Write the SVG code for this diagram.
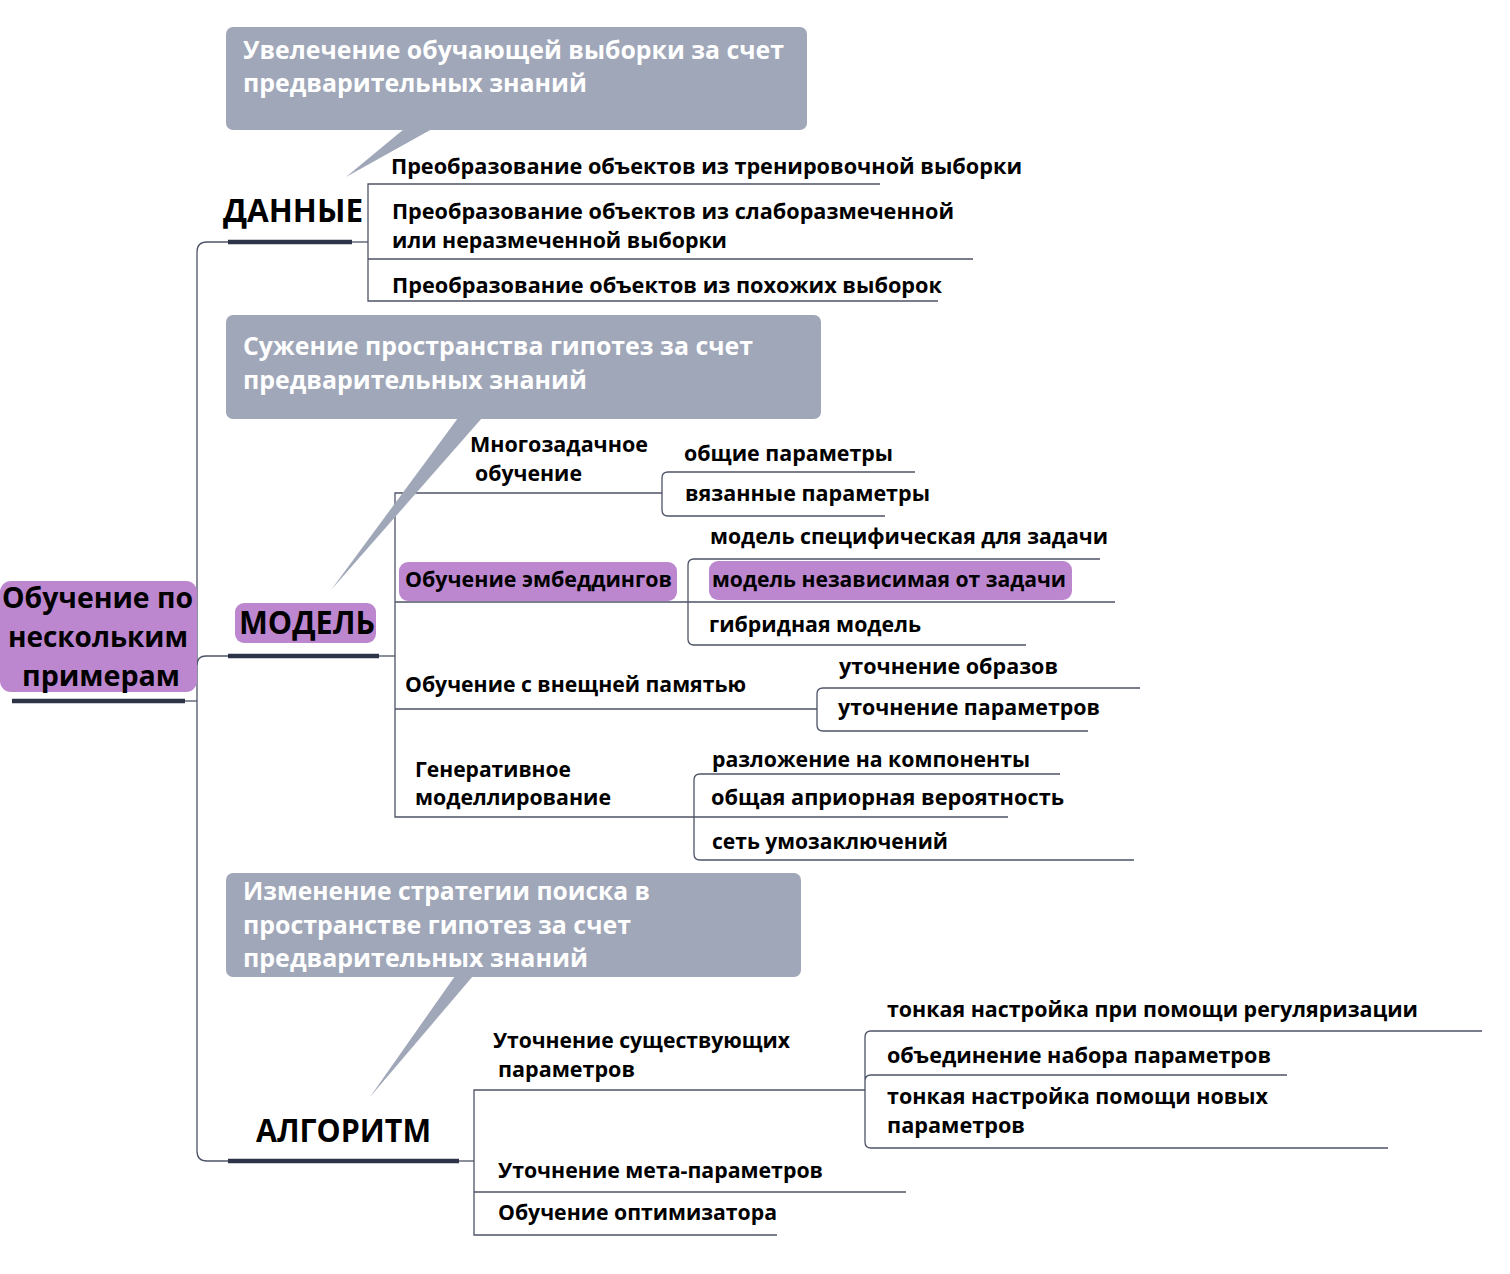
<svg xmlns="http://www.w3.org/2000/svg" width="1510" height="1274" viewBox="0 0 1510 1274">
<style>
text{font-family:"Open Sans","Noto Sans","DejaVu Sans",sans-serif;font-weight:700;fill:#000}
.it{font-size:22px}
.co{font-size:25px;fill:#fff}
.big{font-size:33px}
.root{font-size:28px}
.thin{fill:none;stroke:#4d5367;stroke-width:1.3}
.ul{stroke:#2d3447;stroke-width:4.5}
.call{fill:#a0a7b8}
.hl{fill:#bd87cf}
</style>
<rect width="1510" height="1274" fill="#fff"/>
<g id="connectors">
<path class="thin" d="M185,701 H197"/>
<path class="thin" d="M228,242 H207 Q197,242 197,252 V1151 Q197,1161 207,1161 H228"/>
<path class="thin" d="M197,665 Q197,656 206,656 H228"/>
<path class="thin" d="M352,242 H368"/>
<path class="thin" d="M880,184 H368 V301 H938 M368,259 H973"/>
<path class="thin" d="M379,656 H395"/>
<path class="thin" d="M662,493 H395 V817 H1008 M395,602 H1115 M395,709 H817"/>
<path class="thin" d="M915,472 H668 Q662,472 662,478 V510 Q662,516 668,516 H885"/>
<path class="thin" d="M1100,559 H694 Q688,559 688,565 V639 Q688,645 694,645 H1026"/>
<path class="thin" d="M1140,688 H823 Q817,688 817,694 V725 Q817,731 823,731 H1088"/>
<path class="thin" d="M1060,774 H700 Q694,774 694,780 V854 Q694,860 700,860 H1134"/>
<path class="thin" d="M459,1161 H474"/>
<path class="thin" d="M865,1090 H474 V1235 H777 M474,1192 H906"/>
<path class="thin" d="M1482,1031 H871 Q865,1031 865,1037 V1142 Q865,1148 871,1148 H1388 M1287,1075 H871 Q865,1075 865,1081"/>
</g>
<g id="callout-data">
<rect class="call" x="226" y="27" width="581" height="103" rx="7"/>
<polygon class="call" points="404,129 432,129 346,177"/>
<text class="co" x="243" y="59" textLength="541" lengthAdjust="spacingAndGlyphs">Увелечение обучающей выборки за счет</text>
<text class="co" x="243" y="92" textLength="344" lengthAdjust="spacingAndGlyphs">предварительных знаний</text>
</g>
<g id="callout-model">
<rect class="call" x="226" y="315" width="595" height="104" rx="7"/>
<polygon class="call" points="458,418 482,418 331,590"/>
<text class="co" x="243" y="355" textLength="510" lengthAdjust="spacingAndGlyphs">Сужение пространства гипотез за счет</text>
<text class="co" x="243" y="389" textLength="344" lengthAdjust="spacingAndGlyphs">предварительных знаний</text>
</g>
<g id="callout-algo">
<rect class="call" x="226" y="873" width="575" height="104" rx="7"/>
<polygon class="call" points="455,976 473,976 370,1097"/>
<text class="co" x="243" y="900" textLength="407" lengthAdjust="spacingAndGlyphs">Изменение стратегии поиска в</text>
<text class="co" x="243" y="934" textLength="388" lengthAdjust="spacingAndGlyphs">пространстве гипотез за счет</text>
<text class="co" x="243" y="967" textLength="345" lengthAdjust="spacingAndGlyphs">предварительных знаний</text>
</g>
<g id="root">
<rect class="hl" x="0" y="581" width="197" height="111" rx="11"/>
<text class="root" x="2" y="608" textLength="191" lengthAdjust="spacingAndGlyphs">Обучение по</text>
<text class="root" x="8" y="647" textLength="180" lengthAdjust="spacingAndGlyphs">нескольким</text>
<text class="root" x="22" y="686" textLength="158" lengthAdjust="spacingAndGlyphs">примерам</text>
<line class="ul" x1="12" y1="701" x2="185" y2="701"/>
</g>
<g id="data">
<text class="big" x="223" y="222" textLength="140" lengthAdjust="spacingAndGlyphs">ДАННЫЕ</text>
<line class="ul" x1="228" y1="242" x2="352" y2="242"/>
</g>
<g id="data-1"><text class="it" x="391" y="174" textLength="631" lengthAdjust="spacingAndGlyphs">Преобразование объектов из тренировочной выборки</text></g>
<g id="data-2">
<text class="it" x="392" y="219" textLength="562" lengthAdjust="spacingAndGlyphs">Преобразование объектов из слаборазмеченной</text>
<text class="it" x="392" y="248" textLength="335" lengthAdjust="spacingAndGlyphs">или неразмеченной выборки</text>
</g>
<g id="data-3"><text class="it" x="392" y="293" textLength="550" lengthAdjust="spacingAndGlyphs">Преобразование объектов из похожих выборок</text></g>
<g id="model">
<rect class="hl" x="235" y="603" width="141" height="40" rx="9"/>
<text class="big" x="239" y="634" textLength="136" lengthAdjust="spacingAndGlyphs">МОДЕЛЬ</text>
<line class="ul" x1="228" y1="656" x2="379" y2="656"/>
</g>
<g id="multitask">
<text class="it" x="470" y="452" textLength="178" lengthAdjust="spacingAndGlyphs">Многозадачное</text>
<text class="it" x="475" y="481" textLength="107" lengthAdjust="spacingAndGlyphs">обучение</text>
</g>
<g id="mt-1"><text class="it" x="684" y="461" textLength="209" lengthAdjust="spacingAndGlyphs">общие параметры</text></g>
<g id="mt-2"><text class="it" x="685" y="501" textLength="245" lengthAdjust="spacingAndGlyphs">вязанные параметры</text></g>
<g id="embed">
<rect class="hl" x="399" y="562" width="278" height="39" rx="9"/>
<text class="it" x="405" y="587" textLength="267" lengthAdjust="spacingAndGlyphs">Обучение эмбеддингов</text>
</g>
<g id="emb-1"><text class="it" x="710" y="544" textLength="398" lengthAdjust="spacingAndGlyphs">модель специфическая для задачи</text></g>
<g id="emb-2">
<rect class="hl" x="709" y="561" width="363" height="39" rx="9"/>
<text class="it" x="712" y="587" textLength="354" lengthAdjust="spacingAndGlyphs">модель независимая от задачи</text>
</g>
<g id="emb-3"><text class="it" x="709" y="632" textLength="212" lengthAdjust="spacingAndGlyphs">гибридная модель</text></g>
<g id="memory"><text class="it" x="405" y="692" textLength="341" lengthAdjust="spacingAndGlyphs">Обучение с внещней памятью</text></g>
<g id="mem-1"><text class="it" x="839" y="674" textLength="219" lengthAdjust="spacingAndGlyphs">уточнение образов</text></g>
<g id="mem-2"><text class="it" x="838" y="715" textLength="262" lengthAdjust="spacingAndGlyphs">уточнение параметров</text></g>
<g id="generative">
<text class="it" x="415" y="777" textLength="156" lengthAdjust="spacingAndGlyphs">Генеративное</text>
<text class="it" x="415" y="805" textLength="196" lengthAdjust="spacingAndGlyphs">моделлирование</text>
</g>
<g id="gen-1"><text class="it" x="712" y="767" textLength="318" lengthAdjust="spacingAndGlyphs">разложение на компоненты</text></g>
<g id="gen-2"><text class="it" x="711" y="805" textLength="353" lengthAdjust="spacingAndGlyphs">общая априорная вероятность</text></g>
<g id="gen-3"><text class="it" x="712" y="849" textLength="236" lengthAdjust="spacingAndGlyphs">сеть умозаключений</text></g>
<g id="algo">
<text class="big" x="256" y="1142" textLength="175" lengthAdjust="spacingAndGlyphs">АЛГОРИТМ</text>
<line class="ul" x1="228" y1="1161" x2="459" y2="1161"/>
</g>
<g id="refine">
<text class="it" x="493" y="1048" textLength="297" lengthAdjust="spacingAndGlyphs">Уточнение существующих</text>
<text class="it" x="498" y="1077" textLength="137" lengthAdjust="spacingAndGlyphs">параметров</text>
</g>
<g id="ref-1"><text class="it" x="887" y="1017" textLength="531" lengthAdjust="spacingAndGlyphs">тонкая настройка при помощи регуляризации</text></g>
<g id="ref-2"><text class="it" x="887" y="1063" textLength="384" lengthAdjust="spacingAndGlyphs">объединение набора параметров</text></g>
<g id="ref-3">
<text class="it" x="887" y="1104" textLength="381" lengthAdjust="spacingAndGlyphs">тонкая настройка помощи новых</text>
<text class="it" x="887" y="1133" textLength="138" lengthAdjust="spacingAndGlyphs">параметров</text>
</g>
<g id="meta"><text class="it" x="498" y="1178" textLength="325" lengthAdjust="spacingAndGlyphs">Уточнение мета-параметров</text></g>
<g id="optim"><text class="it" x="498" y="1220" textLength="279" lengthAdjust="spacingAndGlyphs">Обучение оптимизатора</text></g>
</svg>
